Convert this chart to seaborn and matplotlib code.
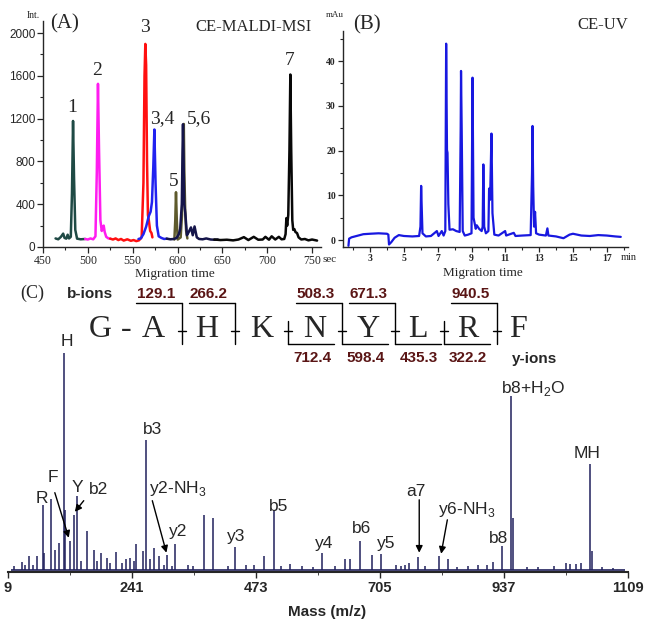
import matplotlib
matplotlib.use("Agg")
import matplotlib.pyplot as plt
from matplotlib.ticker import MultipleLocator, FixedLocator
import seaborn as sns

# ---------------------------------------------
# (A) CE-MALDI-MSI trace, one colour per fraction
# ---------------------------------------------
teal_t = [464, 467, 470, 472.5, 474, 476, 477.5, 479, 481, 482.3, 483.5, 484.6, 486, 488, 492, 497]
teal_i = [80, 72, 95, 125, 85, 78, 115, 80, 95, 500, 1178, 650, 160, 78, 72, 75]

magenta_t = [497, 500, 503, 506, 508.5, 510, 511.3, 512.5, 514, 515.5, 517, 517.7, 518.8, 520.5, 523, 525]
magenta_i = [75, 70, 80, 72, 100, 700, 1525, 900, 250, 150, 190, 200, 140, 95, 80, 78]

red_t = [525, 528, 531, 534, 537, 540, 544, 548, 551, 554, 557, 560, 562, 563.2, 564.1, 565, 566, 567, 568, 569.5, 571, 572]
red_i = [78, 70, 80, 65, 75, 60, 72, 58, 65, 55, 62, 90, 600, 1600, 1898, 1700, 800, 300, 250, 150, 130, 90]

blue_t = [556.5, 559, 562, 565, 568, 570, 571.5, 573, 574.2, 575.5, 577, 579, 582, 585, 588]
blue_i = [75, 80, 120, 190, 290, 330, 420, 750, 1098, 600, 200, 100, 85, 75, 78]

navy_t = [588, 592, 596, 599, 601.5, 603, 604.8, 605.6, 606.1, 606.7, 607.5, 608.7, 610.5, 612.5,
          615, 617, 619, 621.5, 624, 628, 632, 637, 641, 645]
navy_i = [78, 72, 75, 85, 120, 170, 400, 900, 1147, 850, 400, 316, 110, 140,
          183, 110, 192, 90, 75, 72, 80, 70, 68, 70]

olive_t = [596.5, 597.5, 598.3, 599.2, 600.2, 603.5, 605, 606.3, 607, 607.6, 608.6, 609.6, 611]
olive_i = [70, 250, 512, 250, 70, 90, 300, 900, 1150, 700, 330, 150, 80]

black_t = [641, 648, 655, 662, 668, 674, 679, 685, 690, 695, 698, 702, 705, 709, 713, 716, 719,
           720.5, 721.4, 722.3, 723.5, 724.8, 725.8, 726.8, 728, 729, 730.3, 731.5, 733.3, 735,
           738, 742, 746, 750, 755.6]
black_i = [70, 65, 68, 62, 70, 92, 65, 95, 68, 70, 95, 68, 100, 70, 95, 72, 75,
           120, 270, 200, 300, 900, 1612, 900, 250, 160, 167, 140, 130, 90,
           70, 75, 62, 70, 60]

maldi_peak_labels = ["1", "2", "3", "3,4", "5", "5,6", "7"]
maldi_label_t = [482, 510.6, 563.9, 582.5, 595.5, 623.4, 725]
maldi_label_i = [1307, 1649, 2052, 1199, 608, 1199, 1742]

# ---------------------------------------------
# (B) CE-UV electropherogram
# ---------------------------------------------
uv_t = [1.72, 1.76, 1.9, 2.2, 2.6, 3.0, 3.5, 4.0, 4.08, 4.12, 4.25, 4.45, 4.7, 5.0, 5.5, 5.9,
        5.98, 6.02, 6.05, 6.1, 6.3, 6.6, 6.95, 7.05, 7.24, 7.35, 7.45, 7.5, 7.55, 7.58, 7.63,
        7.7, 7.9, 8.1, 8.3, 8.36, 8.38, 8.42, 8.48, 8.6, 8.8, 9.0, 9.06, 9.12, 9.25, 9.31,
        9.45, 9.6, 9.66, 9.7, 9.75, 9.85, 10.0, 10.04, 10.1, 10.18, 10.24, 10.35, 10.6,
        10.99, 11.05, 11.5, 11.6, 12.0, 12.5, 12.58, 12.61, 12.65, 12.7, 12.76, 12.82, 13.0,
        13.4, 13.49, 13.55, 14.0, 14.44, 14.8, 15.0, 15.5, 16.0, 16.5, 17.0, 17.5, 17.83]
uv_v = [-1.3, 0.3, 0.6, 0.9, 1.3, 1.4, 1.5, 1.4, 1.2, -1.0, -0.5, 0.5, 1.1, 0.9, 0.8, 0.9,
        3.0, 12.1, 8.0, 1.5, 0.8, 0.9, 2.0, 0.9, 2.0, 1.0, 2.0, 43.9, 20.1, 19.5, 8.0,
        2.3, 2.4, 2.0, 1.8, 25.0, 37.8, 24.6, 2.0, 1.0, 1.2, 1.5, 36.3, 5.0, 2.5, 3.3,
        2.5, 2.0, 3.0, 16.9, 3.0, 1.5, 2.0, 11.5, 9.0, 23.8, 6.0, 1.2, 1.0,
        2.0, 1.0, 1.6, 0.9, 1.0, 1.1, 15.0, 25.5, 12.0, 3.0, 6.3, 1.5, 1.2,
        1.0, 2.6, 1.0, 0.8, 0.4, 1.2, 1.4, 1.0, 0.9, 1.1, 1.0, 0.8, 0.7]

# ---------------------------------------------
# (C) MS/MS spectrum (relative intensity, b8+H2O = 100)
# ---------------------------------------------
spec_mz = [20, 34.5, 40, 48.8, 55, 62.4, 73.6, 76.7, 89.2, 96.6,
           104.7, 113, 116.5, 124.6, 132, 138.9, 145, 157.5, 169.3, 175,
           183.6, 194.2, 200, 211.6, 222, 229, 236.4, 245, 248.9, 262.5,
           267.5, 275, 283, 291, 300, 306, 315, 322, 345, 355,
           375.6, 393, 420, 434, 455, 470, 488, 507, 520, 536,
           560, 580, 595.6, 620, 639, 648, 667, 690, 707.6, 735,
           745, 751, 760, 777, 790, 816, 832, 850, 870, 889,
           904.5, 915.7, 933.7, 951, 954, 980, 1000, 1030, 1053.6, 1059.8,
           1072, 1081.6, 1097, 1102, 1120, 1140]
spec_h = [2, 4.2, 2.5, 7.7, 3, 7.7, 37.4, 9.6, 40.6, 11.5,
          15.3, 124.7, 34.5, 16.3, 31.6, 42.5, 5, 22.4, 11.5, 5,
          9.6, 7, 4, 10, 4, 6.1, 6.7, 5, 14.8, 10.5,
          74.7, 6, 12.5, 7.7, 3, 8.2, 2, 15, 2.5, 2,
          31.6, 30, 2, 13, 3, 2.5, 8, 34.5, 2, 3.5,
          2, 1.5, 9.8, 2, 6.3, 6, 16.7, 8.6, 9.2, 2.5,
          2, 3, 4, 7.3, 2, 8, 6.3, 1.5, 2, 2.9,
          2.9, 4.2, 13.8, 100, 30, 1.5, 1.5, 2, 3.8, 3.3,
          3.4, 3.8, 61, 10.5, 1.5, 1]
spec_range = (14, 1163)

ms_ticks = [9, 241, 473, 705, 937, 1169]
ms_tick_labels = ["9", "241", "473", "705", "937", "1109"]

ion_labels = ["H", "R", "F", "Y", "b2", "b3", "y2-NH$_3$", "y2", "y3", "b5", "y4", "b6",
              "y5", "a7", "y6-NH$_3$", "b8", "b8+H$_2$O", "MH"]
ion_label_mz = [119, 72.4, 92.9, 139.5, 178.6, 279, 326, 327.8, 436, 516, 600, 671,
                717, 773, 866.6, 926, 991.5, 1092]
ion_label_h = [128.7, 38.5, 50.6, 44.8, 43.7, 78.2, 44.3, 19.5, 16.7, 33.9, 12.6, 21.3,
               12.6, 42.5, 32.2, 15.5, 101.7, 64.4]

# arrows: (from mz, from h, to mz, to h)
arrow_from_mz = [96.6, 150.7, 279, 778.4, 831]
arrow_from_h = [44.3, 39.7, 39.7, 40.2, 28.7]
arrow_to_mz = [122.7, 134, 305.4, 778.4, 819.4]
arrow_to_h = [18.4, 33.3, 9.8, 9.8, 9.2]

# peptide sequence and fragment ions
sequence = list("GAHKNYLRF")
letter_x = [100, 153, 207, 262, 315, 368, 418, 468, 518]
cut_x = {2: 182, 3: 235, 4: 288, 5: 342, 6: 395, 7: 444, 8: 497}
b_ions = ["129.1", "266.2", "508.3", "671.3", "940.5"]
b_cuts = [2, 3, 5, 6, 8]
y_ions = ["712.4", "598.4", "435.3", "322.2"]
y_cuts = [4, 5, 6, 7]

W, H = 651, 624
SERIF = ["Liberation Serif", "DejaVu Serif"]
SANS = ["Liberation Sans", "DejaVu Sans"]
MAROON = "#5a1515"

sns.set_style("ticks")
plt.rcParams["font.family"] = SERIF
plt.rcParams["mathtext.fontset"] = "custom"
plt.rcParams["mathtext.rm"] = "Liberation Sans"
plt.rcParams["axes.linewidth"] = 1.0

fig = plt.figure(figsize=(W / 100, H / 100), dpi=100)


def px_axes(left, top, right, bottom):
    return fig.add_axes([left / W, 1 - bottom / H, (right - left) / W, (bottom - top) / H])


# ---------------- panel A ----------------
axA = px_axes(43, 20.7, 321, 247)
segments = [
    (teal_t, teal_i, "#1f4a45"),
    (magenta_t, magenta_i, "#ff1cf0"),
    (red_t, red_i, "#ff1010"),
    (blue_t, blue_i, "#2222f0"),
    (olive_t, olive_i, "#5e5a2c"),
    (navy_t, navy_i, "#15154a"),
    (black_t, black_i, "#080808"),
]
for t, i, c in segments:
    sns.lineplot(x=t, y=i, color=c, lw=1.8, ax=axA, legend=False)
for lab, t, i in zip(maldi_peak_labels, maldi_label_t, maldi_label_i):
    axA.text(t, i, lab, ha="center", va="center", fontsize=14, family=SERIF, clip_on=False)
axA.set_xlim(450, 760)
axA.set_ylim(0, 2115)
axA.xaxis.set_major_locator(MultipleLocator(50))
axA.xaxis.set_minor_locator(MultipleLocator(25))
axA.yaxis.set_major_locator(MultipleLocator(400))
axA.yaxis.set_minor_locator(MultipleLocator(200))
axA.tick_params(axis="x", labelsize=8.5, pad=1.5, length=4, width=0.9)
axA.tick_params(axis="y", labelsize=8.5, pad=1.5, length=4, width=0.9)
axA.tick_params(which="minor", length=2.5, width=0.8)
for lab in axA.get_yticklabels():
    lab.set_family(SANS)
axA.set_xlabel("")
axA.set_ylabel("")
sns.despine(ax=axA)

# ---------------- panel B ----------------
axB = px_axes(342.7, 30.7, 627.7, 247.3)
sns.lineplot(x=uv_t, y=uv_v, color="#1818e0", lw=1.6, ax=axB, legend=False)
axB.set_xlim(1.38, 18.24)
axB.set_ylim(-1.63, 46.8)
axB.xaxis.set_major_locator(FixedLocator([3, 5, 7, 9, 11, 13, 15, 17]))
axB.xaxis.set_minor_locator(MultipleLocator(1))
axB.yaxis.set_major_locator(MultipleLocator(10))
axB.yaxis.set_minor_locator(MultipleLocator(5))
axB.tick_params(labelsize=7, pad=1.5, length=3.5, width=0.9)
axB.tick_params(which="minor", length=2, width=0.8)
for lab in axB.get_xticklabels() + axB.get_yticklabels():
    lab.set_fontweight("bold")
axB.set_xlabel("")
axB.set_ylabel("")
sns.despine(ax=axB)

# ---------------- panel C ----------------
axC = px_axes(8, 350, 628, 571.5)
axC.vlines(spec_mz, 0, spec_h, color="#20205c", lw=1.1)
axC.hlines(0, spec_range[0], spec_range[1], color="#20205c", lw=1.2)
for lab, m, h in zip(ion_labels, ion_label_mz, ion_label_h):
    axC.text(m, h, lab, ha="center", va="baseline", fontsize=12.5, family=SANS, clip_on=False)
for fm, fh, tm, th in zip(arrow_from_mz, arrow_from_h, arrow_to_mz, arrow_to_h):
    axC.annotate("", xy=(tm, th), xytext=(fm, fh),
                 arrowprops=dict(arrowstyle="-|>", color="black", lw=1.0,
                                 mutation_scale=10, shrinkA=0, shrinkB=0))
axC.set_xlim(ms_ticks[0], ms_ticks[-1])
axC.set_ylim(-1, 126.3)
axC.set_xticks(ms_ticks)
axC.set_xticklabels(ms_tick_labels, family=SANS, fontweight="bold", fontsize=10.5)
axC.xaxis.set_minor_locator(FixedLocator([(a + b) / 2 for a, b in zip(ms_ticks[:-1], ms_ticks[1:])]))
axC.tick_params(axis="x", pad=3, length=4, width=1.0)
axC.tick_params(axis="x", which="minor", length=2.5)
axC.set_yticks([])
axC.spines["bottom"].set_linewidth(1.5)
sns.despine(ax=axC, left=True)

# ---------------- free text and sequence diagram (pixel overlay) ----------------
ov = fig.add_axes([0, 0, 1, 1], zorder=10)
ov.set_xlim(0, W)
ov.set_ylim(H, 0)
ov.axis("off")

ov.text(33, 15, "Int.", ha="center", va="center", fontsize=7)
ov.text(65, 24, "(A)", ha="center", va="center", fontsize=15)
ov.text(253, 27, "CE-MALDI-MSI", ha="center", va="center", fontsize=12)
ov.text(330, 259, "sec", ha="center", va="center", fontsize=8)
ov.text(175, 274, "Migration time", ha="center", va="center", fontsize=9.5)

ov.text(335, 15, "mAu", ha="center", va="center", fontsize=6.5)
ov.text(367, 25, "(B)", ha="center", va="center", fontsize=15)
ov.text(603, 25, "CE-UV", ha="center", va="center", fontsize=12)
ov.text(629, 258, "min", ha="center", va="center", fontsize=7.5)
ov.text(483, 273, "Migration time", ha="center", va="center", fontsize=9.5)

ov.text(32, 293, "(C)", ha="center", va="center", fontsize=13)
ov.text(90, 297.5, "b-ions", ha="center", va="baseline", fontsize=11, family=SANS, fontweight="bold")
ov.text(535, 362.5, "y-ions", ha="center", va="baseline", fontsize=11, family=SANS, fontweight="bold")
ov.text(327, 612, "Mass (m/z)", ha="center", va="center", fontsize=11, family=SANS, fontweight="bold")

for ch, x in zip(sequence, letter_x):
    ov.text(x, 337, ch, ha="center", va="baseline", fontsize=23)
ov.text((letter_x[0] + letter_x[1]) / 2, 337, "-", ha="center", va="baseline", fontsize=23)

for k, x in cut_x.items():
    top = 303 if k in b_cuts else 321
    ov.plot([x, x], [top, 344], color="black", lw=1.0)
    ov.plot([x - 4, x + 4], [331, 331], color="black", lw=1.0)
for lab, k in zip(b_ions, b_cuts):
    x = cut_x[k]
    ov.plot([x - 46, x], [303, 303], color="black", lw=1.0)
    ov.text(x - 26, 297.5, lab, ha="center", va="baseline", fontsize=11,
            family=SANS, fontweight="bold", color=MAROON)
for lab, k in zip(y_ions, y_cuts):
    x = cut_x[k]
    ov.plot([x, x + 46], [344, 344], color="black", lw=1.0)
    ov.text(x + 24, 362.5, lab, ha="center", va="baseline", fontsize=11,
            family=SANS, fontweight="bold", color=MAROON)

fig.savefig("out.png", dpi=100)
plt.close(fig)
